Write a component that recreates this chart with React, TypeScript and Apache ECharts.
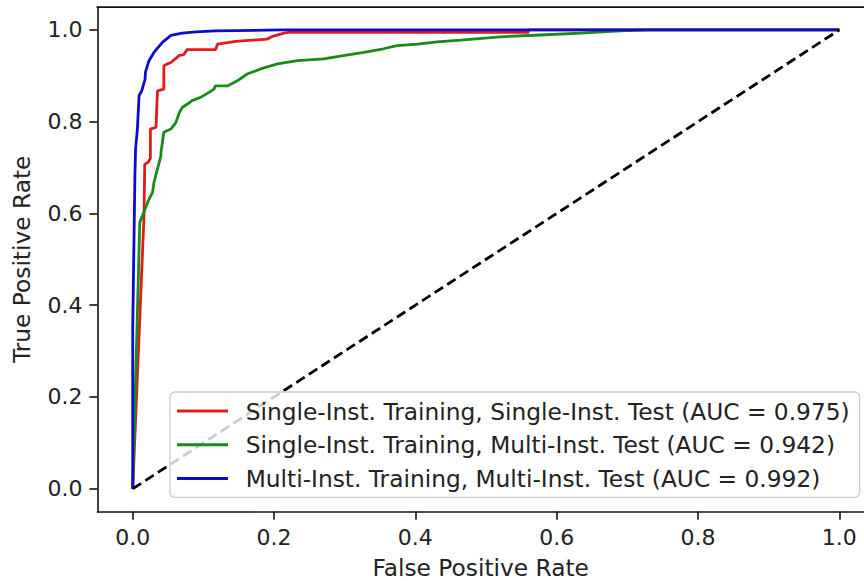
import React, { useEffect, useRef } from "react";
import * as echarts from "echarts";

const xTicks = [0, 0.2, 0.4, 0.6, 0.8, 1.0];
const yTicks = [0, 0.2, 0.4, 0.6, 0.8, 1.0];

const seriesNames = [
  "Single-Inst. Training, Single-Inst. Test (AUC = 0.975)",
  "Single-Inst. Training, Multi-Inst. Test (AUC = 0.942)",
  "Multi-Inst. Training, Multi-Inst. Test (AUC = 0.992)",
];
const seriesColors = ["#e31a1c", "#1a8a1a", "#0b0bd0"];

const singleSingle: [number, number][] = [
  [0, 0], [0.016, 0.595], [0.017, 0.707], [0.022, 0.712], [0.025, 0.72],
  [0.025, 0.784], [0.033, 0.788], [0.035, 0.867], [0.044, 0.871], [0.044, 0.922],
  [0.049, 0.926], [0.054, 0.929], [0.061, 0.938], [0.065, 0.944], [0.072, 0.946],
  [0.077, 0.957], [0.117, 0.957], [0.12, 0.969], [0.146, 0.975], [0.19, 0.98],
  [0.198, 0.986], [0.214, 0.993], [0.223, 0.995], [0.56, 0.995], [0.56, 1.0],
  [1.0, 1.0],
];

const singleMulti: [number, number][] = [
  [0, 0], [0.01, 0.581], [0.0137, 0.595], [0.023, 0.631], [0.028, 0.646],
  [0.03, 0.667], [0.035, 0.697], [0.04, 0.726], [0.04, 0.733], [0.044, 0.777],
  [0.054, 0.784], [0.061, 0.798], [0.066, 0.82], [0.07, 0.831], [0.077, 0.838],
  [0.084, 0.846], [0.096, 0.853], [0.108, 0.864], [0.115, 0.871], [0.117, 0.878],
  [0.134, 0.878], [0.148, 0.889], [0.162, 0.904], [0.181, 0.915], [0.205, 0.926],
  [0.233, 0.933], [0.27, 0.937], [0.298, 0.944], [0.327, 0.951], [0.355, 0.959],
  [0.374, 0.966], [0.403, 0.969], [0.431, 0.974], [0.464, 0.978], [0.52, 0.985],
  [0.577, 0.989], [0.634, 0.993], [0.69, 0.998], [0.73, 1.0], [1.0, 1.0],
];

const multiMulti: [number, number][] = [
  [0, 0], [0, 0.35], [0.003, 0.675], [0.004, 0.74], [0.0066, 0.784],
  [0.009, 0.857], [0.0127, 0.867], [0.0175, 0.893], [0.018, 0.908], [0.023, 0.933],
  [0.03, 0.951], [0.042, 0.973], [0.054, 0.988], [0.07, 0.993], [0.089, 0.996],
  [0.117, 0.998], [0.21, 1.0], [1.0, 1.0],
];

const chance: [number, number][] = [[0, 0], [1, 1]];

const FONT = "DejaVu Sans";
// visible x range: the right spine of the original lies just outside the picture
const X_MIN = -0.05;
const X_MAX = 1.035;
const Y_MIN = -0.05;
const Y_MAX = 1.05;

const GRID_LEFT = 97.4;
const GRID_TOP = 7;

export default function App() {
  const ref = useRef<HTMLDivElement>(null);
  useEffect(() => {
    if (!ref.current) return;
    const chart = echarts.init(ref.current, undefined, { renderer: "svg" });
    const axisLineStyle = { color: "#111", width: 1.6 };
    const tickStyle = (vals: number[]) => ({
      show: true,
      inside: false,
      length: 8,
      lineStyle: axisLineStyle,
      customValues: vals,
    });
    const labelStyle = (vals: number[]) => ({
      customValues: vals,
      formatter: (v: number) => v.toFixed(1),
      fontFamily: FONT,
      fontSize: 22,
      color: "#222",
      margin: 15,
    });
    const nameStyle = { fontFamily: FONT, fontSize: 23.3, color: "#222" };
    const lineSeries = [singleSingle, singleMulti, multiMulti].map((d, i) => ({
      name: seriesNames[i],
      type: "line",
      data: d,
      showSymbol: false,
      symbol: "none",
      lineStyle: { color: seriesColors[i], width: 2.8 },
      itemStyle: { color: seriesColors[i] },
      z: 2 + i,
    }));
    chart.setOption({
      animation: false,
      backgroundColor: "#fff",
      grid: {
        left: GRID_LEFT,
        top: GRID_TOP,
        right: 0,
        height: 504.7,
        containLabel: false,
        outerBoundsMode: "none",
      },
      graphic: [
        {
          type: "rect",
          shape: { x: GRID_LEFT - 0.8, y: GRID_TOP - 0.8, width: 864 - GRID_LEFT + 0.8, height: 1.8 },
          style: { fill: "#111" },
          z: 20,
        },
      ],
      xAxis: [
        {
          type: "value",
          min: X_MIN,
          max: X_MAX,
          splitLine: { show: false },
          axisLine: { show: true, onZero: false, lineStyle: axisLineStyle },
          axisTick: tickStyle(xTicks),
          axisLabel: labelStyle(xTicks),
          name: "False Positive Rate",
          nameLocation: "middle",
          nameGap: 44,
          nameTextStyle: nameStyle,
        },
      ],
      yAxis: {
        type: "value",
        min: Y_MIN,
        max: Y_MAX,
        splitLine: { show: false },
        axisLine: { show: true, onZero: false, lineStyle: axisLineStyle },
        axisTick: tickStyle(yTicks),
        axisLabel: labelStyle(yTicks),
        name: "True Positive Rate",
        nameLocation: "middle",
        nameGap: 64,
        nameTextStyle: nameStyle,
      },
      legend: {
        data: seriesNames.map((n) => ({ name: n })),
        orient: "vertical",
        left: 170,
        top: 392,
        padding: [6, 10, 6, 7],
        itemGap: 7.7,
        itemWidth: 51,
        itemHeight: 3,
        icon: "rect",
        backgroundColor: "rgba(255,255,255,0.8)",
        borderColor: "#cccccc",
        borderWidth: 1.3,
        borderRadius: 5,
        textStyle: {
          fontFamily: FONT,
          fontSize: 23.3,
          color: "#222",
          lineHeight: 26,
          padding: [0, 0, 0, 12.7],
        },
        z: 10,
      },
      series: [
        ...lineSeries,
        {
          name: "chance",
          type: "line",
          data: chance,
          showSymbol: false,
          symbol: "none",
          lineStyle: { color: "#000", width: 2.8, type: [10, 5] },
          z: 6,
        },
      ],
    });
    return () => chart.dispose();
  }, []);
  return (
    <>
      <style>{"html,body{margin:0;padding:0;overflow:hidden;}"}</style>
      <div ref={ref} style={{ width: 864, height: 581 }} />
    </>
  );
}
